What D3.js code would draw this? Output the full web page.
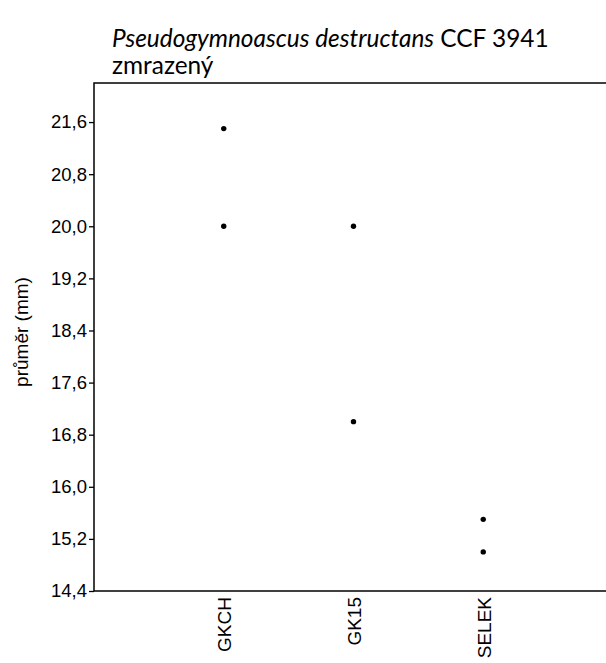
<!DOCTYPE html>
<html>
<head>
<meta charset="utf-8">
<script src="https://cdn.jsdelivr.net/npm/d3@7"></script>
<style>
  body { margin: 0; background: #fff; }
  svg { display: block; }
</style>
</head>
<body>
<script>
// measured colony diameters per medium
var groups = ["GKCH", "GK15", "SELEK"];
var pointGroup = ["GKCH", "GKCH", "GK15", "GK15", "SELEK", "SELEK"];
var pointValue = [21.5, 20.0, 20.0, 17.0, 15.5, 15.0];
var yTicks = [14.4, 15.2, 16.0, 16.8, 17.6, 18.4, 19.2, 20.0, 20.8, 21.6];

var w = 606, h = 663;
var m = { left: 94, top: 83, bottom: 591, right: 613 };

var svg = d3.select("body")
    .append("svg")
    .attr("width", w)
    .attr("height", h);

// title: species name in italics, strain normal
var title = svg.append("text")
    .attr("x", 112)
    .attr("y", 47)
    .style("font-family", "Lato, sans-serif")
    .style("font-size", "24.4px")
    .attr("fill", "#000");
title.append("tspan").style("font-style", "italic").text("Pseudogymnoascus destructans");
title.append("tspan").text(" CCF 3941");

svg.append("text")
    .attr("x", 112)
    .attr("y", 74)
    .style("font-family", "Lato, sans-serif")
    .style("font-size", "24.4px")
    .text("zmrazený");

// scales
var xScale = d3.scalePoint()
    .domain(groups)
    .range([m.left, m.right])
    .padding(1);

var yScale = d3.scaleLinear()
    .domain([14.4, 22.2])
    .range([m.bottom, m.top]);

var fmt = function(d) { return d3.format(".1f")(d).replace(".", ","); };

// y axis
var yAxis = svg.append("g")
    .attr("transform", "translate(" + m.left + ",0)")
    .call(d3.axisLeft(yScale).tickValues(yTicks).tickFormat(fmt).tickSize(5).tickPadding(2));
yAxis.select(".domain").remove();
yAxis.selectAll("line").attr("stroke", "#000").attr("stroke-width", 1.3);
yAxis.selectAll("text")
    .style("font-family", "'Liberation Sans', Arial, sans-serif")
    .style("font-size", "18.5px")
    .attr("fill", "#000");

// x axis, labels only
var xAxis = svg.append("g")
    .attr("transform", "translate(0," + m.bottom + ")")
    .call(d3.axisBottom(xScale).tickSize(0).tickPadding(0));
xAxis.select(".domain").remove();
xAxis.selectAll("text")
    .style("font-family", "'Liberation Sans', Arial, sans-serif")
    .style("font-size", "19px")
    .attr("fill", "#000")
    .attr("text-anchor", "end")
    .attr("dy", null)
    .attr("y", 0)
    .attr("transform", "translate(7,6) rotate(-90)");

// frame
svg.append("rect")
    .attr("x", m.left)
    .attr("y", m.top)
    .attr("width", m.right - m.left)
    .attr("height", m.bottom - m.top)
    .attr("fill", "none")
    .attr("stroke", "#000")
    .attr("stroke-width", 1.5);

// y label
svg.append("text")
    .attr("transform", "translate(28," + ((m.top + m.bottom) / 2 - 5) + ") rotate(-90)")
    .attr("text-anchor", "middle")
    .style("font-family", "'Liberation Sans', Arial, sans-serif")
    .style("font-size", "19px")
    .text("průměr (mm)");

// points
svg.selectAll("circle")
    .data(pointValue)
    .enter()
    .append("circle")
    .attr("cx", function(d, i) { return xScale(pointGroup[i]); })
    .attr("cy", function(d) { return yScale(d); })
    .attr("r", 2.7)
    .attr("fill", "#000");
</script>
</body>
</html>
